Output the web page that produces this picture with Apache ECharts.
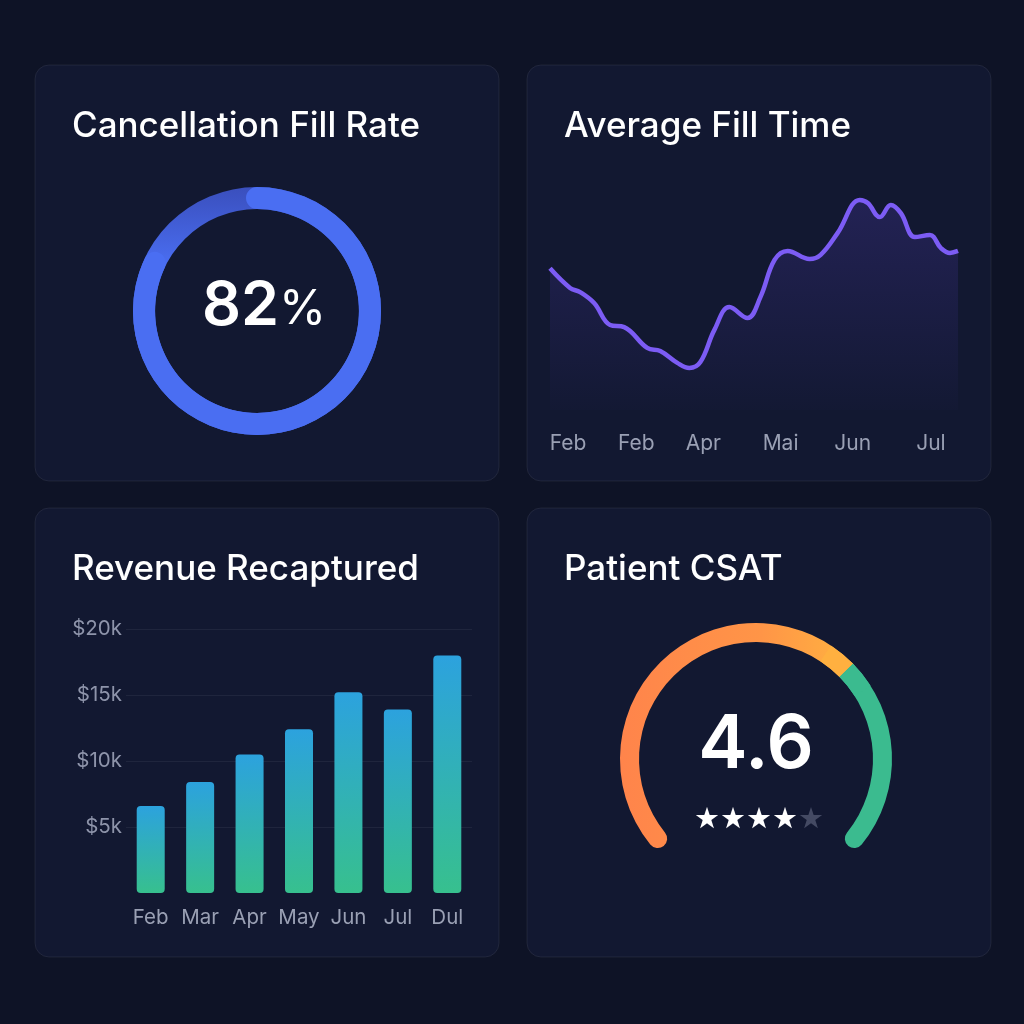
<!DOCTYPE html>
<html>
<head>
<meta charset="utf-8">
<script src="https://cdn.jsdelivr.net/npm/echarts@6/dist/echarts.min.js"></script>
<style>
  html, body { margin: 0; padding: 0; background: #0e1326; }
  #main { width: 1024px; height: 1024px; }
</style>
</head>
<body>
<div id="main"></div>
<script>
// cancellation fill rate (%)
const fillRate = 82;

// average fill time, x in days from start, y in hours
const fillTimeX = [0, 2.0, 3.0, 4.4, 6.0, 7.4, 9.7, 11.0, 12.7, 13.9, 15.0, 16.4, 17.9, 19.7, 21.0,
  22.4, 23.7, 25.9, 27.0, 28.7, 30.9, 31.7, 32.9, 34.0, 35.0, 36.4, 37.9, 39.0, 39.9, 40.7];
const fillTimeY = [6.44, 5.55, 5.36, 4.86, 3.86, 3.77, 2.82, 2.68, 2.14, 1.91, 2.18, 3.64, 4.68, 4.18, 5.14,
  6.82, 7.23, 6.86, 7.05, 8.05, 9.55, 9.41, 8.77, 9.32, 8.95, 7.86, 7.95, 7.36, 7.14, 7.23];
const fillTimeTicks = [1.8, 8.6, 15.3, 23.0, 30.2, 38.0];
const fillTimeLabels = ['Feb', 'Feb', 'Apr', 'Mai', 'Jun', 'Jul'];

// revenue recaptured ($k)
const revenueMonths = ['Feb', 'Mar', 'Apr', 'May', 'Jun', 'Jul', 'Dul'];
const revenueK = [6.6, 8.4, 10.5, 12.4, 15.2, 13.9, 18.0];

// patient csat
const csatScore = 4.6;
const csatStarsFilled = 4;
const csatStarsTotal = 5;
const csatSplit = 0.676; // where the arc turns from orange to green

const FONT = 'Inter, "Noto Sans", sans-serif';
const chart = echarts.init(document.getElementById('main'), null, { renderer: 'canvas' });

const panels = [
  { x: 35, y: 65, w: 464, h: 416, title: 'Cancellation Fill Rate' },
  { x: 527, y: 65, w: 464, h: 416, title: 'Average Fill Time' },
  { x: 35, y: 508, w: 464, h: 449, title: 'Revenue Recaptured' },
  { x: 527, y: 508, w: 464, h: 449, title: 'Patient CSAT' }
];

const graphics = [];
panels.forEach(p => {
  graphics.push({
    type: 'rect', z: -10, silent: true,
    shape: { x: p.x, y: p.y, width: p.w, height: p.h, r: 14 },
    style: { fill: '#121831', stroke: 'rgba(255,255,255,0.07)', lineWidth: 1 }
  });
  graphics.push({
    type: 'text', z: 10, silent: true,
    x: p.x + 37, y: p.y + 61,
    style: {
      text: p.title, fill: '#ffffff', font: '500 35px ' + FONT,
      verticalAlign: 'middle', align: 'left'
    }
  });
});

// stars under the csat score
let stars = '';
for (let i = 0; i < csatStarsTotal; i++) {
  stars += i < csatStarsFilled ? '{on|★}' : '{off|★}';
}
graphics.push({
  type: 'text', z: 10, silent: true,
  x: 759, y: 820,
  style: {
    text: stars, align: 'center', verticalAlign: 'middle',
    rich: {
      on: { fill: '#ffffff', fontSize: 29, fontFamily: 'DejaVu Sans' },
      off: { fill: '#444a63', fontSize: 29, fontFamily: 'DejaVu Sans' }
    }
  }
});

const lineData = fillTimeX.map((x, i) => [x, fillTimeY[i]]);

// csat arc geometry
const csatStart = 219, csatEnd = -39;
const csatJoin = csatStart - (csatStart - csatEnd) * csatSplit;
const csatOrange = new echarts.graphic.LinearGradient(0, 0, 1, 0, [
  { offset: 0, color: '#ff844b' },
  { offset: 0.6, color: '#ff9547' },
  { offset: 1, color: '#ffb340' }
]);
const hiddenGaugeParts = {
  pointer: { show: false }, anchor: { show: false }, progress: { show: false },
  axisTick: { show: false }, splitLine: { show: false }, axisLabel: { show: false },
  title: { show: false }
};

const option = {
  backgroundColor: '#0e1326',
  animation: false,
  graphic: graphics,
  grid: [
    { left: 550, right: 66, top: 190, bottom: 614 },
    { left: 126, right: 552, top: 629, bottom: 131 }
  ],
  xAxis: [
    {
      gridIndex: 0, type: 'value', min: 0, max: 40.7,
      axisLine: { show: false }, axisTick: { show: false }, splitLine: { show: false },
      axisLabel: {
        customValues: fillTimeTicks,
        formatter: v => fillTimeLabels[fillTimeTicks.indexOf(v)] || '',
        color: '#9aa0b4', fontSize: 21, fontFamily: FONT, margin: 23
      }
    },
    {
      gridIndex: 1, type: 'category', data: revenueMonths,
      axisLine: { show: false }, axisTick: { show: false },
      axisLabel: { interval: 0, color: '#9aa0b4', fontSize: 20.5, fontFamily: FONT, margin: 14 }
    }
  ],
  yAxis: [
    { gridIndex: 0, type: 'value', min: 0, max: 10, show: false },
    {
      gridIndex: 1, type: 'value', min: 0, max: 20, interval: 5,
      axisLine: { show: false }, axisTick: { show: false },
      splitLine: { showMinLine: false, lineStyle: { color: 'rgba(255,255,255,0.06)' } },
      axisLabel: {
        formatter: v => v === 0 ? '' : '$' + v + 'k',
        color: '#8e94aa', fontSize: 20.5, fontFamily: FONT, margin: 4
      }
    }
  ],
  series: [
    {
      type: 'gauge',
      center: [257, 311], radius: 124,
      startAngle: 90, endAngle: -270,
      min: 0, max: 100,
      axisLine: {
        lineStyle: {
          width: 22,
          color: [[1, new echarts.graphic.LinearGradient(0, 0, 0, 1, [
            { offset: 0, color: '#3a4fbd' },
            { offset: 0.32, color: '#4a6ef2' },
            { offset: 1, color: '#4a6ef2' }
          ])]]
        }
      },
      progress: { show: true, width: 22, roundCap: true, itemStyle: { color: '#4a6ef2' } },
      pointer: { show: false }, anchor: { show: false },
      axisTick: { show: false }, splitLine: { show: false }, axisLabel: { show: false },
      title: { show: false },
      detail: {
        offsetCenter: [7, -4],
        formatter: v => '{a|' + v + '}{b|%}',
        rich: {
          a: { color: '#ffffff', fontSize: 61, fontWeight: 600, fontFamily: FONT },
          b: { color: '#ffffff', fontSize: 48, fontWeight: 400, fontFamily: FONT, padding: [6, 0, 0, 0] }
        }
      },
      data: [{ value: fillRate }]
    },
    {
      type: 'line',
      xAxisIndex: 0, yAxisIndex: 0,
      data: lineData,
      smooth: 0.4,
      symbol: 'none',
      lineStyle: { color: '#7c5cf4', width: 4.5 },
      areaStyle: {
        color: new echarts.graphic.LinearGradient(0, 0, 0, 1, [
          { offset: 0, color: 'rgba(105,75,230,0.28)' },
          { offset: 1, color: 'rgba(105,75,230,0.02)' }
        ])
      }
    },
    {
      type: 'bar',
      xAxisIndex: 1, yAxisIndex: 1,
      data: revenueK,
      barWidth: 28,
      itemStyle: {
        borderRadius: 4,
        color: new echarts.graphic.LinearGradient(0, 0, 0, 1, [
          { offset: 0, color: '#2ca2de' },
          { offset: 1, color: '#37c08e' }
        ])
      }
    },
    Object.assign({
      type: 'gauge',
      center: [756, 759], radius: 136,
      startAngle: csatStart, endAngle: csatEnd,
      min: 0, max: 5,
      axisLine: {
        roundCap: true,
        lineStyle: { width: 19, color: [[csatSplit, csatOrange], [1, '#3bbb8f']] }
      },
      detail: {
        offsetCenter: [0, -13],
        formatter: v => v.toFixed(1),
        color: '#ffffff', fontSize: 74, fontWeight: 600, fontFamily: FONT
      },
      data: [{ value: csatScore }]
    }, hiddenGaugeParts),
    // square patch over the orange/green join so the edge stays crisp
    Object.assign({
      type: 'gauge', z: 3,
      center: [756, 759], radius: 136,
      startAngle: csatJoin + 12, endAngle: csatJoin - 12,
      min: 0, max: 1,
      axisLine: { lineStyle: { width: 19, color: [[0.5, '#ffb040'], [1, '#3bbb8f']] } },
      detail: { show: false },
      data: [{ value: 0 }]
    }, hiddenGaugeParts)
  ]
};

chart.setOption(option);
</script>
</body>
</html>
